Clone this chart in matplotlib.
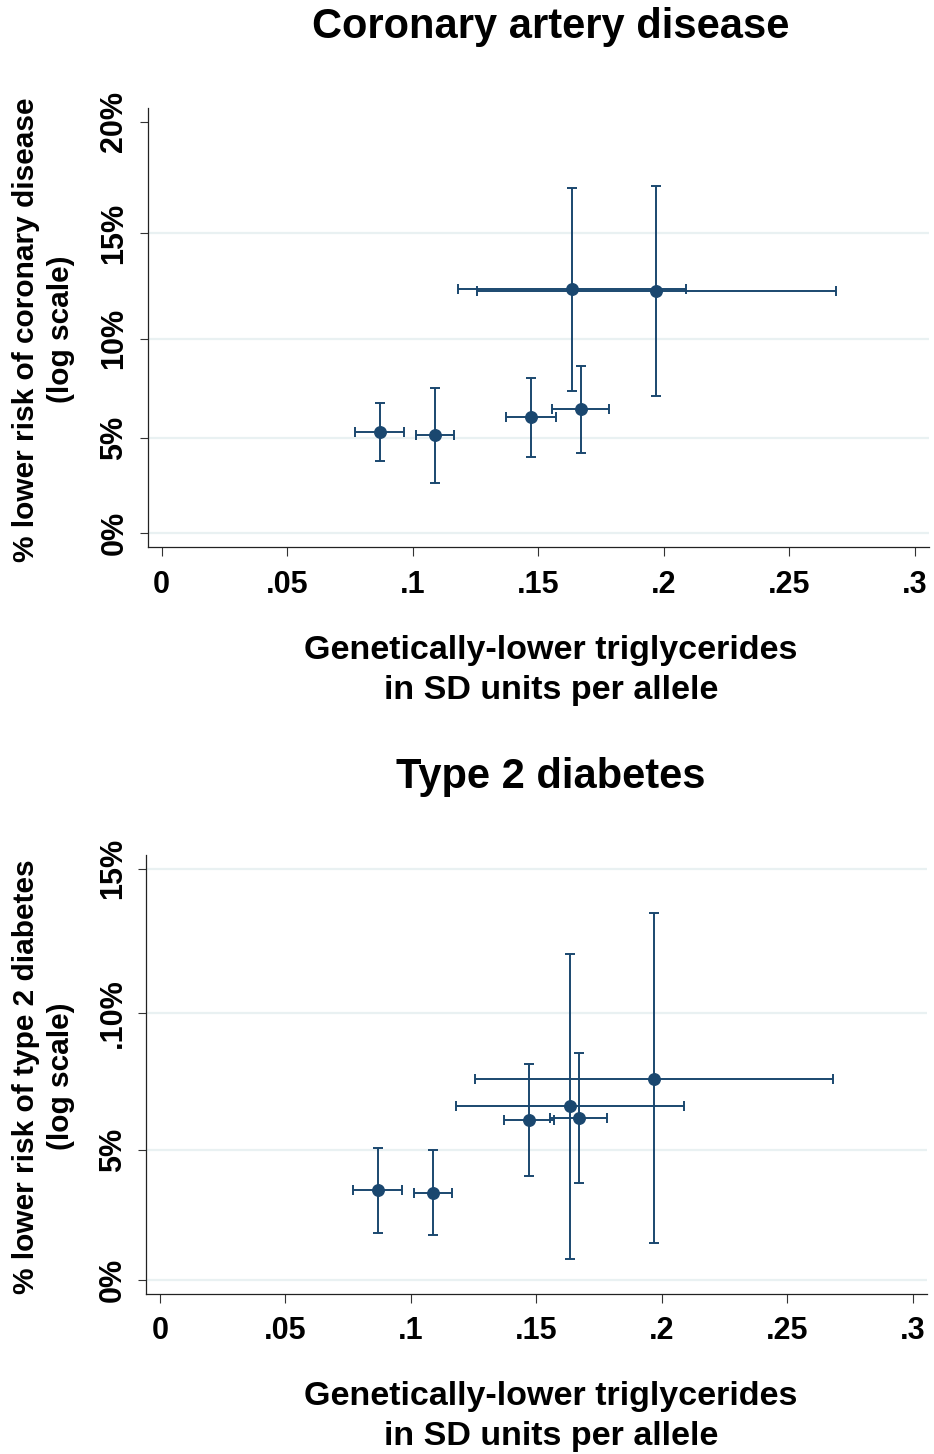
import numpy as np
import matplotlib
matplotlib.use("Agg")
import matplotlib.pyplot as plt

# ---------------- data ----------------
# genetically-lower triglycerides (SD units per allele), with 95% CI
tg_effect = [0.0868, 0.1088, 0.1470, 0.1633, 0.1670, 0.1970]
tg_lo     = [0.0772, 0.1013, 0.1372, 0.1181, 0.1556, 0.1256]
tg_hi     = [0.0967, 0.1166, 0.1569, 0.2087, 0.1783, 0.2684]

# % lower risk of coronary artery disease
cad_risk    = [5.30, 5.15, 6.07, 12.38, 6.48, 12.31]
cad_risk_lo = [3.82, 2.66, 4.01, 7.40, 4.22, 7.15]
cad_risk_hi = [6.79, 7.54, 8.07, 17.05, 8.67, 17.17]

# % lower risk of type 2 diabetes
t2d_risk    = [3.50, 3.39, 6.12, 6.65, 6.19, 7.65]
t2d_risk_lo = [1.83, 1.75, 4.02, 0.84, 3.76, 1.44]
t2d_risk_hi = [5.09, 5.02, 8.18, 12.08, 8.57, 13.49]

x_ticks = [0, 0.05, 0.10, 0.15, 0.20, 0.25, 0.30]
x_tick_labels = ['0', '.05', '.1', '.15', '.2', '.25', '.3']
cad_y_ticks = [0, 5, 10, 15, 20]
cad_y_tick_labels = ['0%', '5%', '10%', '15%', '20%']
t2d_y_ticks = [0, 5, 10, 15]
t2d_y_tick_labels = ['0%', '5%', '.10%', '15%']

titles = ['Coronary artery disease', 'Type 2 diabetes']
y_labels = ['% lower risk of coronary disease\n(log scale)',
            '% lower risk of type 2 diabetes\n(log scale)']
x_label = 'Genetically-lower triglycerides\nin SD units per allele'

# ---------------- style ----------------
plt.rcParams['font.family'] = ['Liberation Sans', 'DejaVu Sans']
plt.rcParams['font.weight'] = 'bold'
NAVY = '#1a476f'
GRID = '#e9f1f2'

W, H = 934, 1454
fig = plt.figure(figsize=(W / 100, H / 100), dpi=100)
fig.patch.set_facecolor('white')


def fwd(r):
    r = np.asarray(r, dtype=float)
    return -np.log(np.clip(1 - r / 100.0, 1e-9, None))


def inv(y):
    y = np.asarray(y, dtype=float)
    return 100.0 * (1 - np.exp(-y))


def rect(left, top, right, bottom):
    return [left / W, 1 - bottom / H, (right - left) / W, (bottom - top) / H]


def panel(rect_px, risk, lo, hi, yticks, ylabels, grid_levels, ylim,
          title, ylabel, title_base, xlabel_base):
    ax = fig.add_axes(rect(*rect_px))
    ax.set_yscale('function', functions=(fwd, inv))
    x = np.array(tg_effect)
    xl = np.array(tg_lo)
    xh = np.array(tg_hi)
    r = np.array(risk)
    rl = np.array(lo)
    rh = np.array(hi)
    for g in grid_levels:
        ax.axhline(g, color=GRID, lw=1.6, zorder=0)
    ax.errorbar(x, r, xerr=[x - xl, xh - x], yerr=[r - rl, rh - r],
                fmt='o', color=NAVY, ecolor=NAVY, ms=8.3, lw=1.4,
                capsize=3.6, capthick=1.4, zorder=3)
    ax.set_xlim(-0.0056, 0.3056)
    ax.set_ylim(*ylim)
    ax.set_xticks(x_ticks)
    ax.set_xticklabels(x_tick_labels, fontsize=22, fontweight='bold')
    ax.set_yticks(yticks)
    ax.set_yticklabels(ylabels, fontsize=22, fontweight='bold',
                       rotation=90, va='center')
    ax.yaxis.set_minor_locator(matplotlib.ticker.NullLocator())
    ax.xaxis.set_minor_locator(matplotlib.ticker.NullLocator())
    ax.tick_params(axis='x', length=6.2, width=0.8, pad=10, color='#333333')
    ax.tick_params(axis='y', length=6.0, width=0.8, pad=7, color='#333333')
    for s in ['top', 'right']:
        ax.spines[s].set_visible(False)
    for s in ['left', 'bottom']:
        ax.spines[s].set_linewidth(0.9)
        ax.spines[s].set_color('#222222')
    ax.set_facecolor('white')

    cx = 551 / W
    fig.text(cx, 1 - title_base / H, title, ha='center', va='baseline',
             fontsize=30, fontweight='bold')
    # va='baseline' on multi-line text anchors the last line's baseline
    fig.text(cx, 1 - xlabel_base / H, x_label, ha='center', va='baseline',
             fontsize=24.5, fontweight='bold', linespacing=1.38,
             multialignment='center')
    ycen = (rect_px[1] + rect_px[3]) / 2 + 2
    fig.text(43.5 / W, 1 - ycen / H, ylabel, ha='center', va='center',
             rotation=90, fontsize=21.5, fontweight='bold',
             linespacing=1.28, multialignment='center')
    return ax


panel((147.5, 108.3, 929, 547), cad_risk, cad_risk_lo, cad_risk_hi,
      cad_y_ticks, cad_y_tick_labels, [0, 5, 10, 15], (-0.779, 20.58),
      titles[0], y_labels[0], 38, 699)

panel((145.7, 855, 926.7, 1293.7), t2d_risk, t2d_risk_lo, t2d_risk_hi,
      t2d_y_ticks, t2d_y_tick_labels, [0, 5, 10, 15], (-0.5435, 15.46),
      titles[1], y_labels[1], 788, 1445)

fig.savefig('out.png', dpi=100, facecolor='white')
